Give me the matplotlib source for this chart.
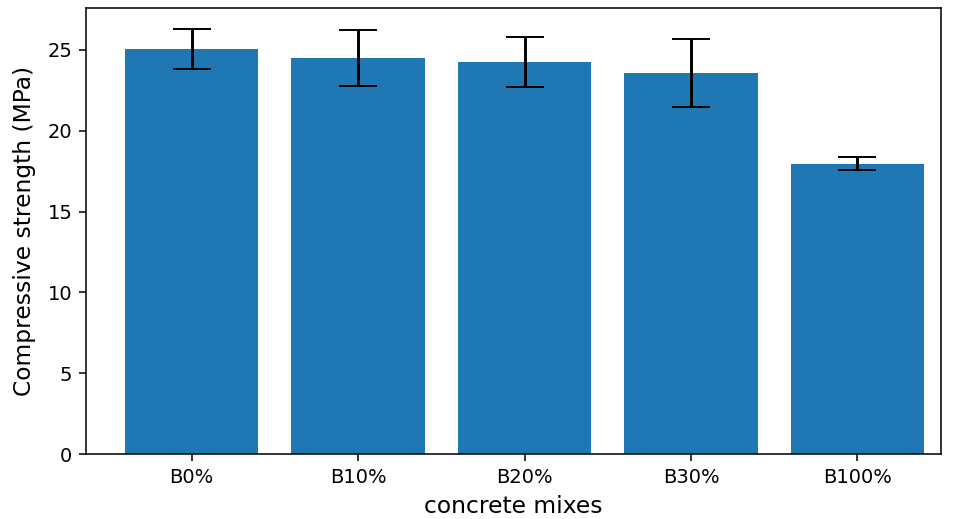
import matplotlib
matplotlib.use("Agg")
import matplotlib.pyplot as plt

# mean compressive strength and spread for each mix
mixes = ["B0%", "B10%", "B20%", "B30%", "B100%"]
strength = [25.05, 24.51, 24.23, 23.55, 17.96]
spread = [1.24, 1.72, 1.55, 2.10, 0.39]

fig, ax = plt.subplots(figsize=(956 / 140, 519 / 140), dpi=140)
ax.bar(mixes, strength, yerr=spread, color="#1f77b4", capsize=10,
       error_kw=dict(ecolor="black"))

ax.set_xlim(-0.634, 4.5)
ax.set_xlabel("concrete mixes", fontsize=12)
ax.set_ylabel("Compressive strength (MPa)", fontsize=12, labelpad=6)

fig.subplots_adjust(left=0.09, right=0.984, top=0.985, bottom=0.125)
fig.savefig("out.png")
